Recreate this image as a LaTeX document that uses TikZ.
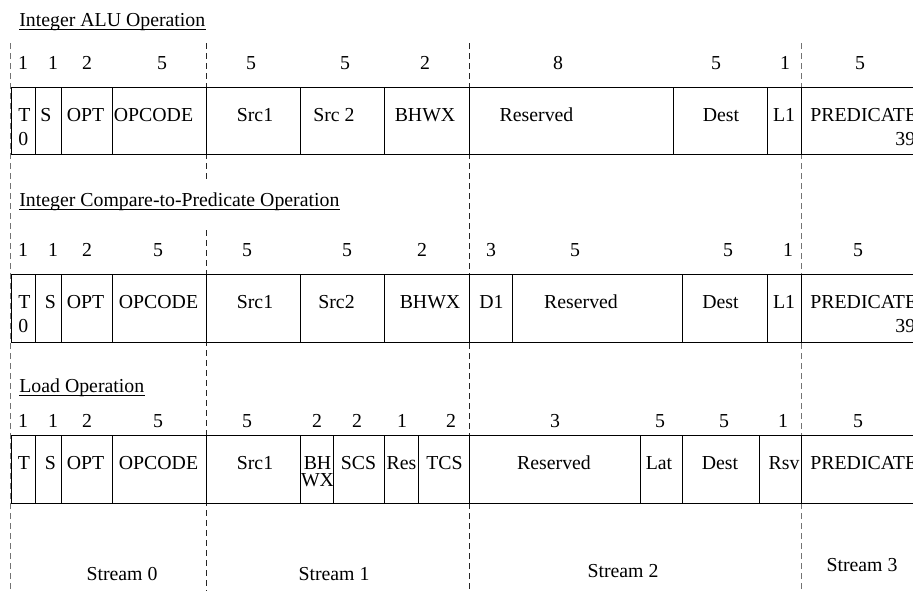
\documentclass[tikz,border=0pt]{standalone}
\usepackage{fontspec}
\setmainfont{Liberation Serif}
\usetikzlibrary{positioning}

\begin{document}
\begin{tikzpicture}[x=0.5pt,y=-0.5pt,font=\fontsize{9.9}{12}\selectfont,
    field/.style={draw,line width=0.5pt},
    streamline/.style={dashed,dash pattern=on 3pt off 2pt,line width=0.5pt,black!85},
    lbl/.style={inner sep=0pt,anchor=base},
    num/.style={inner sep=0pt,anchor=base},
    head/.style={inner sep=0pt,anchor=base west},
    uline/.style={line width=0.5pt}]
    \clip (0,0) rectangle (913,591);

    % stream boundaries
    \draw[streamline,black!55] (10,43) -- (10,591);
    \draw[streamline] (206,43) -- (206,180);
    \draw[streamline] (206,230) -- (206,591);
    \draw[streamline] (469,43) -- (469,591);
    \draw[streamline,black!55] (801,43) -- (801,591);

    % Integer ALU Operation
    \node[head] (hAlu) at (19,26) {Integer ALU Operation};
    \draw[uline] ([yshift=-1.5pt]hAlu.base west) -- ([yshift=-1.5pt]hAlu.base east);
    \draw[field] (11,87) rectangle (930,154);
    \foreach \x in {35,61,112,206,300,384,469,673,767,801}
      \draw[field] (\x,87) -- (\x,154);
    \foreach \x/\n [count=\i] in {23/1,53/1,87/2,162/5,251/5,345/5,425/2,558/8,716/5,785/1,860/5}
      \node[num] (wa\i) at (\x,69) {\n};
    \node[lbl,anchor=north west,align=left] (aT) at (18,108) {T\\0};
    \node[lbl] (aS) at (46,121) {S};
    \node[lbl] (aOpt) at (85.5,121) {OPT};
    \node[lbl] (aOpc) at (153.5,121) {OPCODE};
    \node[lbl] (aSrc1) at (255,121) {Src1};
    \node[lbl] (aSrc2) at (334,121) {Src 2};
    \node[lbl] (aBhwx) at (425,121) {BHWX};
    \node[lbl] (aRsvd) at (536.5,121) {Reserved};
    \node[lbl] (aDest) at (721,121) {Dest};
    \node[lbl] (aL1) at (784,121) {L1};
    \node[lbl,anchor=base west] (aPred) at (810,121) {PREDICATE};
    \node[lbl,anchor=base west] (aBit) at (895,145) {39};

    % Integer Compare-to-Predicate Operation
    \node[head] (hCmp) at (19,206) {Integer Compare-to-Predicate Operation};
    \draw[uline] ([yshift=-1.5pt]hCmp.base west) -- ([yshift=-1.5pt]hCmp.base east);
    \draw[field] (11,274) rectangle (930,342);
    \foreach \x in {35,61,112,206,300,384,469,512,682,767,801}
      \draw[field] (\x,274) -- (\x,342);
    \foreach \x/\n [count=\i] in {23/1,53/1,87/2,158/5,247/5,347/5,422/2,491/3,575/5,728/5,788/1,858/5}
      \node[num] (wb\i) at (\x,256) {\n};
    \node[lbl,anchor=north west,align=left] (bT) at (18,295) {T\\0};
    \node[lbl] (bS) at (50.5,308) {S};
    \node[lbl] (bOpt) at (85.5,308) {OPT};
    \node[lbl] (bOpc) at (158.5,308) {OPCODE};
    \node[lbl] (bSrc1) at (255,308) {Src1};
    \node[lbl] (bSrc2) at (336.5,308) {Src2};
    \node[lbl] (bBhwx) at (430,308) {BHWX};
    \node[lbl] (bD1) at (491.5,308) {D1};
    \node[lbl] (bRsvd) at (581,308) {Reserved};
    \node[lbl] (bDest) at (720.5,308) {Dest};
    \node[lbl] (bL1) at (784,308) {L1};
    \node[lbl,anchor=base west] (bPred) at (810,308) {PREDICATE};
    \node[lbl,anchor=base west] (bBit) at (895,332) {39};

    % Load Operation
    \node[head] (hLd) at (19,392) {Load Operation};
    \draw[uline] ([yshift=-1.5pt]hLd.base west) -- ([yshift=-1.5pt]hLd.base east);
    \draw[field] (11,435) rectangle (930,503);
    \foreach \x in {35,61,112,206,300,333,384,418,469,640,682,759,801}
      \draw[field] (\x,435) -- (\x,503);
    \foreach \x/\n [count=\i] in {23/1,53/1,87/2,158/5,247/5,317/2,357/2,402/1,451/2,555/3,660/5,724/5,783/1,858/5}
      \node[num] (wc\i) at (\x,427) {\n};
    \node[lbl] (cT) at (24,469) {T};
    \node[lbl] (cS) at (50.5,469) {S};
    \node[lbl] (cOpt) at (85.5,469) {OPT};
    \node[lbl] (cOpc) at (158.5,469) {OPCODE};
    \node[lbl] (cSrc1) at (255,469) {Src1};
    \node[lbl,anchor=north,align=center] (cBhwx) at (317.5,456) {BH\\[-3.5pt]WX};
    \node[lbl] (cScs) at (358.5,469) {SCS};
    \node[lbl] (cRes) at (401.5,469) {Res};
    \node[lbl] (cTcs) at (444.5,469) {TCS};
    \node[lbl] (cRsvd) at (554,469) {Reserved};
    \node[lbl] (cLat) at (659,469) {Lat};
    \node[lbl] (cDest) at (720,469) {Dest};
    \node[lbl] (cRsv) at (784,469) {Rsv};
    \node[lbl,anchor=base west] (cPred) at (810,469) {PREDICATE};

    % streams
    \node[lbl] (st0) at (122,580) {Stream 0};
    \node[lbl] (st1) at (334,580) {Stream 1};
    \node[lbl] (st2) at (623,577) {Stream 2};
    \node[lbl] (st3) at (862,571) {Stream 3};
\end{tikzpicture}
\end{document}
